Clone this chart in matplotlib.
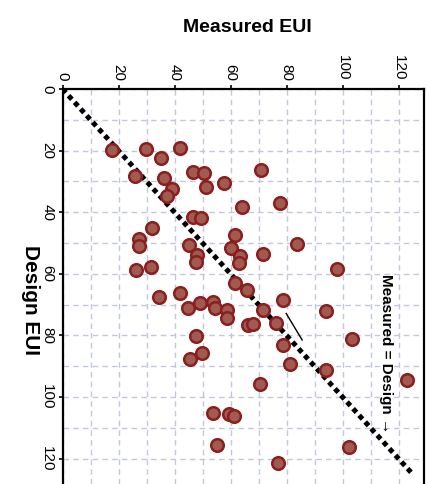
import matplotlib.pyplot as plt
from matplotlib.ticker import MultipleLocator

measured = [17.7, 29.8, 42.0, 35.2, 25.9, 36.3, 39.1, 37.3, 46.6, 50.5,
            51.2, 57.7, 64.1, 46.6, 49.5, 32.0, 27.3, 27.3, 26.2, 31.6,
            45.2, 61.6, 60.2, 70.9, 77.7, 83.7, 71.6, 48.0, 47.7, 63.4,
            63.0, 61.6, 65.9, 34.5, 42.0, 44.8, 49.1, 53.8, 54.5, 58.7,
            58.7, 47.7, 49.8, 45.5, 66.3, 98.0, 78.8, 71.6, 94.1, 68.0,
            76.3, 78.8, 103.4, 81.2, 94.1, 70.5, 123.0, 53.8, 59.5, 61.2,
            55.2, 102.3, 76.9]
design = [19.8, 19.5, 19.2, 22.4, 28.2, 28.9, 32.5, 34.7, 26.9, 27.3,
          31.8, 30.5, 38.3, 41.6, 41.9, 45.1, 48.7, 51.0, 58.8, 57.8,
          50.6, 47.4, 51.6, 26.3, 37.0, 50.3, 53.6, 53.9, 56.2, 54.2,
          56.5, 63.0, 65.3, 67.5, 66.2, 71.1, 69.5, 69.2, 71.1, 71.8,
          74.4, 80.2, 85.7, 87.7, 76.6, 58.4, 68.5, 71.8, 72.1, 76.3,
          76.0, 83.1, 81.2, 89.3, 91.2, 95.8, 94.5, 105.2, 105.5, 106.2,
          115.6, 116.2, 121.3]
ticks = [0, 20, 40, 60, 80, 100, 120]

plt.rcParams['font.family'] = ['Liberation Sans', 'DejaVu Sans']

fig = plt.figure(figsize=(4.3, 4.84), dpi=100)
ax = fig.add_axes([62.5 / 430, 0, (424 - 62.5) / 430, (484 - 89) / 484])

ax.set_xlim(0, (424 - 62.5) / 2.8)
ax.set_ylim(395 / 3.08, 0)

ax.xaxis.set_major_locator(MultipleLocator(20))
ax.xaxis.set_minor_locator(MultipleLocator(10))
ax.yaxis.set_major_locator(MultipleLocator(20))
ax.yaxis.set_minor_locator(MultipleLocator(10))
ax.grid(True, which='both', color='#c3c8d8', linestyle=(0, (4, 3)), linewidth=1)
ax.set_axisbelow(True)

ax.xaxis.tick_top()
ax.set_xticks(ticks)
ax.set_xticklabels([str(t) for t in ticks], rotation=-90, fontsize=11)
ax.set_yticks(ticks)
ax.set_yticklabels([str(t) for t in ticks], rotation=-90, fontsize=11, va='center')
ax.tick_params(which='major', length=3, width=1.2, pad=3)
ax.tick_params(which='minor', length=0)

for s in ['left', 'top', 'right']:
    ax.spines[s].set_linewidth(1.6)
ax.spines['bottom'].set_visible(False)

ax.plot([0, 125], [0, 125], color='black', linestyle=(0, (1, 0.8)), linewidth=3.6, zorder=3)
ax.plot([79.9, 85.6], [72.9, 81.5], color='black', linewidth=1, zorder=3)

ax.scatter(measured, design, s=82, facecolor='#a05a50', edgecolor='#8b1e1e',
           linewidth=1.8, zorder=4)

ax.text(115.5, 86, 'Measured = Design \u2192', rotation=-90, fontsize=11,
        fontweight='bold', ha='center', va='center')

fig.text(247 / 430, 1 - 28 / 484, 'Measured EUI', fontsize=14, fontweight='bold',
         ha='center', va='center')
fig.text(30 / 430, 1 - 300 / 484, 'Design EUI', fontsize=15, fontweight='bold',
         rotation=-90, ha='center', va='center')

fig.savefig('out.png', dpi=100)
